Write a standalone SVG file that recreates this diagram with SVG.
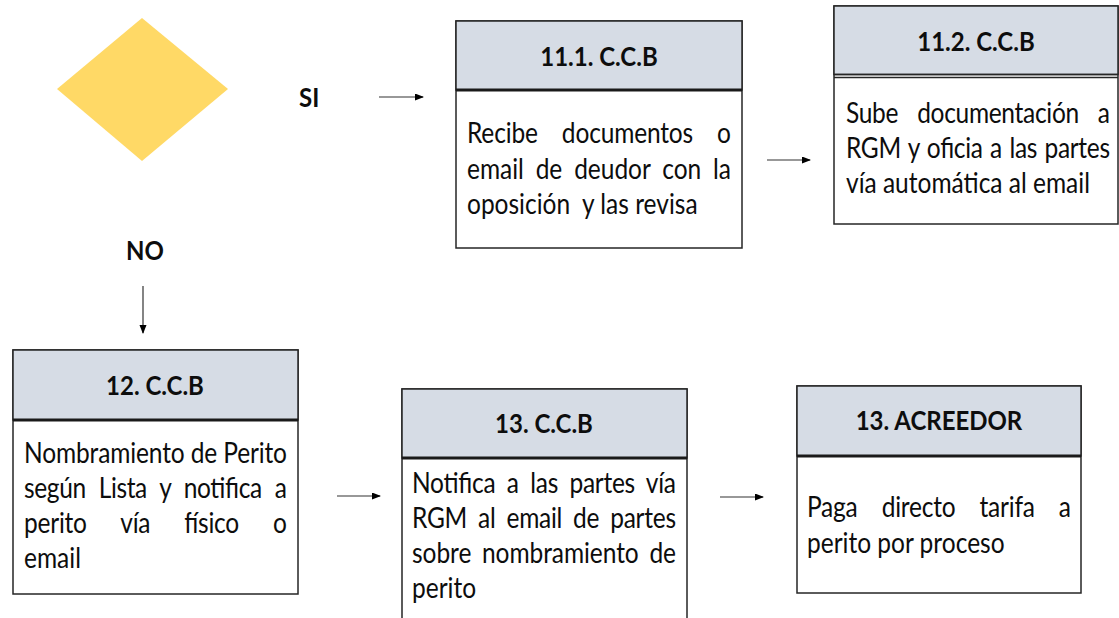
<svg xmlns="http://www.w3.org/2000/svg" width="1119" height="618" viewBox="0 0 1119 618">
<style>
.box{fill:#ffffff;stroke:#262626;stroke-width:1.5}
.hdr{fill:#d6dce5;stroke:#262626;stroke-width:1.5}
.sep{stroke:#1a1a1a;stroke-width:3}
.sep2{stroke:#262626;stroke-width:1.5}
.b{font-family:Lato,"Liberation Sans",sans-serif;font-size:24.5px;fill:#0d0d0d}
.t{font-family:Lato,"Liberation Sans",sans-serif;font-size:24px;font-weight:bold;fill:#0d0d0d;text-anchor:middle}
.lbl{font-family:Lato,"Liberation Sans",sans-serif;font-size:24px;font-weight:bold;fill:#0d0d0d}
.conn{stroke:#333333;stroke-width:1.2;fill:none;marker-end:url(#arr)}
</style>
<defs>
<marker id="arr" markerUnits="userSpaceOnUse" markerWidth="10" markerHeight="8" refX="8" refY="3.5" orient="auto">
<path d="M0,0 L9,3.5 L0,7 z" fill="#000"/>
</marker>
</defs>
<rect width="1119" height="618" fill="#ffffff"/>

<g id="decision">
<polygon points="57,89 142,18 228,89 142,161" fill="#ffd966"/>
</g>
<g id="label-si">
<text class="lbl" transform="translate(0,107) scale(1,1.14)" x="299">SI</text>
</g>
<g id="label-no">
<text class="lbl" transform="translate(0,260) scale(1,1.14)" x="126">NO</text>
</g>

<g id="node-11-1">
<rect class="box" x="456" y="21" width="286" height="227"/>
<rect class="hdr" x="456" y="21" width="286" height="69"/>
<line class="sep" x1="456" y1="90" x2="742" y2="90"/>
<text class="t" transform="translate(0,66) scale(1,1.14)" x="599">11.1. C.C.B</text>
<text class="b" transform="translate(0,143) scale(1,1.14)" x="467" word-spacing="18" textLength="264" lengthAdjust="spacing">Recibe documentos o</text>
<text class="b" transform="translate(0,179) scale(1,1.14)" x="467" word-spacing="5.6" textLength="264" lengthAdjust="spacing">email de deudor con la</text>
<text class="b" transform="translate(0,214) scale(1,1.14)" x="467">oposición&#160; y las revisa</text>
</g>

<g id="node-11-2">
<rect class="box" x="834" y="6" width="284" height="218"/>
<rect class="hdr" x="834" y="6" width="284" height="68.5"/>
<line class="sep2" x1="834" y1="74.5" x2="1118" y2="74.5"/>
<line class="sep2" x1="834" y1="77.5" x2="1118" y2="77.5"/>
<text class="t" transform="translate(0,51) scale(1,1.14)" x="976">11.2. C.C.B</text>
<text class="b" transform="translate(0,123) scale(1,1.14)" x="846" word-spacing="13" textLength="264" lengthAdjust="spacing">Sube documentación a</text>
<text class="b" transform="translate(0,158) scale(1,1.14)" x="846" word-spacing="1.5" textLength="264" lengthAdjust="spacing">RGM y oficia a las partes</text>
<text class="b" transform="translate(0,193) scale(1,1.14)" x="846">vía automática al email</text>
</g>

<g id="node-12">
<rect class="box" x="13" y="350" width="285" height="244"/>
<rect class="hdr" x="13" y="350" width="285" height="70"/>
<line class="sep" x1="13" y1="420" x2="298" y2="420"/>
<text class="t" transform="translate(0,395) scale(1,1.14)" x="155">12. C.C.B</text>
<text class="b" transform="translate(0,463) scale(1,1.14)" x="24" textLength="263" lengthAdjust="spacing">Nombramiento de Perito</text>
<text class="b" transform="translate(0,498) scale(1,1.14)" x="24" word-spacing="7" textLength="263" lengthAdjust="spacing">según Lista y notifica a</text>
<text class="b" transform="translate(0,533) scale(1,1.14)" x="24" word-spacing="28" textLength="263" lengthAdjust="spacing">perito vía físico o</text>
<text class="b" transform="translate(0,568) scale(1,1.14)" x="24">email</text>
</g>

<g id="node-13-ccb">
<rect class="box" x="402" y="389" width="285" height="260"/>
<rect class="hdr" x="402" y="389" width="285" height="69"/>
<line class="sep" x1="402" y1="458" x2="687" y2="458"/>
<text class="t" transform="translate(0,433) scale(1,1.14)" x="544">13. C.C.B</text>
<text class="b" transform="translate(0,493) scale(1,1.14)" x="412" word-spacing="5.5" textLength="264" lengthAdjust="spacing">Notifica a las partes vía</text>
<text class="b" transform="translate(0,528) scale(1,1.14)" x="412" word-spacing="5" textLength="264" lengthAdjust="spacing">RGM al email de partes</text>
<text class="b" transform="translate(0,563) scale(1,1.14)" x="412" word-spacing="4.5" textLength="264" lengthAdjust="spacing">sobre nombramiento de</text>
<text class="b" transform="translate(0,598) scale(1,1.14)" x="412">perito</text>
</g>

<g id="node-13-acreedor">
<rect class="box" x="797" y="386" width="284" height="207"/>
<rect class="hdr" x="797" y="386" width="284" height="70"/>
<line class="sep" x1="797" y1="456" x2="1081" y2="456"/>
<text class="t" transform="translate(0,430) scale(1,1.14)" x="939">13. ACREEDOR</text>
<text class="b" transform="translate(0,517) scale(1,1.14)" x="807" word-spacing="18" textLength="264" lengthAdjust="spacing">Paga directo tarifa a</text>
<text class="b" transform="translate(0,553) scale(1,1.14)" x="807">perito por proceso</text>
</g>

<g id="connectors">
<line class="conn" x1="379" y1="97" x2="423" y2="97"/>
<line class="conn" x1="767" y1="160" x2="810" y2="160"/>
<line class="conn" x1="143" y1="286" x2="143" y2="333"/>
<line class="conn" x1="337" y1="496" x2="380" y2="496"/>
<line class="conn" x1="720" y1="497" x2="763" y2="497"/>
</g>
</svg>
